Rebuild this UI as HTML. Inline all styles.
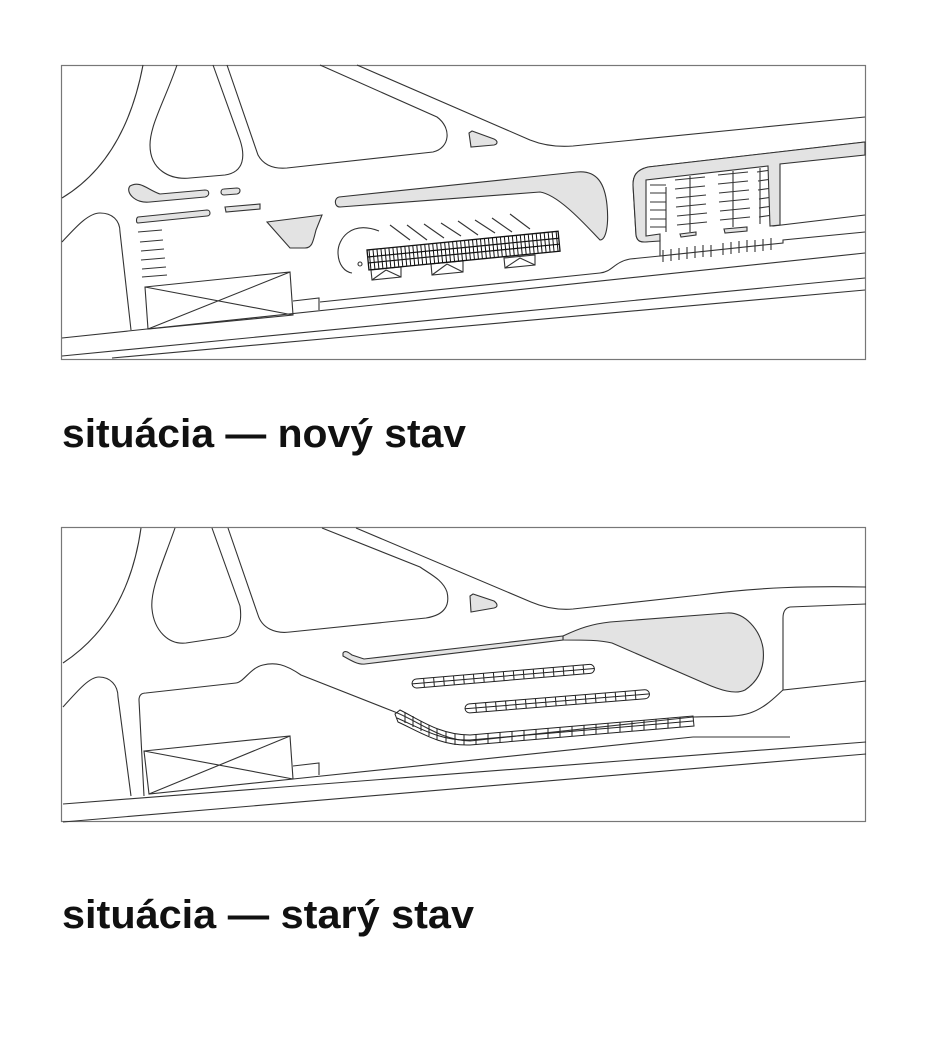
<!DOCTYPE html>
<html><head><meta charset="utf-8"><style>
html,body{margin:0;padding:0;background:#fff;}
svg{display:block;}
</style></head><body>
<svg width="940" height="1064" viewBox="0 0 940 1064" xmlns="http://www.w3.org/2000/svg">
<defs>
<pattern id="hatch" width="4" height="20" patternUnits="userSpaceOnUse"><line x1="1" y1="0" x2="1" y2="20" stroke="#111" stroke-width="1"/></pattern>
</defs>
<g fill="none" stroke="#333" stroke-width="1.1">
<!-- TOP -->
<rect x="61.5" y="65.5" width="804" height="294" stroke="#777" stroke-width="1.2"/>
<path d="M143,65 Q125,160 62,198"/>
<path d="M177,65 C165,100 150,125 150,145 C150,170 170,180 190,178 L225,175 C245,172 245,155 240,140 L213,65"/>
<path d="M227,65 L258,155 C264,166 275,169 287,168 L433,152 C450,148 452,128 437,117 L320,65"/>
<path d="M357,65 L530,140 C545,146 560,147 573,146 L865,117"/>
<path d="M865,142 L648,167 C636,170 633,176 633,185 L636,235 C637,241 640,242 645,242 L660,240 L660,256 L783,243 L783,240 L865,232"/>
<path d="M770,157 L773,226 L865,215" />
<path d="M62,242 C75,228 88,213 100,213 C112,213 120,220 120,232 L131,330"/>
<path d="M320,302 L600,273 C612,272 614,262 630,259 L660,256"/>
<path d="M379,231 C350,220 338,240 338,252 C338,265 345,272 352,273"/>
<path d="M62,338 L865,253"/>
<path d="M62,356 L865,278"/>
<path d="M112,358 L865,290"/>
<path d="M145,287 L290,272 L293,315 L148,329 Z M145,287 L293,315 M148,329 L290,272"/>
<path d="M293,301 L319,298 L319,310"/>
<path d="M138,232 L162,230 M140,242 L163,240 M141,251 L164,249 M141,260 L165,258 M142,269 L166,267 M142,277 L167,275"/>
<circle cx="360" cy="264" r="2"/>
<path d="M390,225 L410,240 M407,225 L427,240 M424,224 L444,238 M441,223 L461,236 M458,221 L478,235 M475,220 L495,233 M492,218 L512,232 M510,214 L530,229"/>
<path d="M371,270 L401,267 L401,277 L372,280 Z M372,280 L386,270 L401,277 M431,264 L463,261 L463,272 L432,275 Z M432,275 L447,264 L463,272 M504,258 L535,255 L535,265 L505,268 Z M505,268 L520,258 L535,265"/>
<path d="M666,187 L666,232 M650,185 L666,185 M650,193 L666,193 M650,202 L666,202 M650,210 L666,210 M650,219 L666,219 M650,227 L666,227 M690,176 L690,232 M675,180 L705,177 M675,189 L705,186 M676,198 L706,195 M676,207 L706,204 M677,216 L707,213 M677,225 L707,222 M733,171 L733,227 M718,175 L748,172 M718,184 L748,181 M719,193 L749,190 M719,202 L749,199 M720,211 L750,208 M720,220 L750,217 M760,168 L760,224 M757,172 L771,170 M758,181 L772,179 M758,190 L772,188 M759,199 L773,197 M759,208 L773,206 M759,217 L773,215"/>
<path d="M663,250 L663,262 M671,249 L671,261 M679,248 L679,260 M687,247 L687,259 M695,246 L695,258 M703,245 L703,257 M711,245 L711,257 M723,243 L723,255 M731,242 L731,254 M739,241 L739,253 M747,240 L747,252 M755,240 L755,252 M763,239 L763,251 M771,238 L771,250"/>
</g>
<g fill="#e3e3e3" stroke="#333" stroke-width="1.1">
<path d="M648,167 L865,142 L865,155 L780,164 L780,225 L770,226 L768,166 L646,180 L646,236 L660,234 L660,241 L645,242 C640,242 637,241 636,235 L633,185 C633,176 636,170 648,167 Z"/>
<path d="M339,197 L577,172 C598,170 605,185 607,205 C609,225 606,240 600,240 C590,230 560,195 540,192 L340,207 C334,207 334,198 339,197 Z"/>
<path d="M130,186 C140,180 148,190 160,194 L205,190 C210,190 210,196 205,197 L150,202 C135,204 125,192 130,186 Z"/>
<path d="M224,189 L237,188 C241,188 241,193 237,194 L224,195 C220,195 220,189 224,189 Z"/>
<path d="M138,217 L207,210 C211,210 211,216 207,216 L138,223 C136,223 136,218 138,217 Z"/>
<path d="M225,207 L260,204 L260,209 L226,212 Z"/>
<path d="M267,222 L322,215 L316,230 C313,242 312,248 305,248 L290,248 Z"/>
<path d="M469,133 L471,147 L494,145 C498,144 498,141 494,139 L472,131 Z"/>
<path d="M680,234 L696,232 L696,235 L681,237 Z M724,229 L747,227 L747,231 L725,233 Z"/>
</g>
<g transform="rotate(-5.6 367 250)">
<rect x="367" y="250" width="192" height="20" fill="url(#hatch)" stroke="#111" stroke-width="1.3"/>
<line x1="367" y1="257" x2="559" y2="257" stroke="#111" stroke-width="1.2"/>
<line x1="367" y1="263" x2="559" y2="263" stroke="#111" stroke-width="1.2"/>
</g>
<!-- BOTTOM -->
<g fill="none" stroke="#333" stroke-width="1.1">
<rect x="61.5" y="527.5" width="804" height="294" stroke="#777" stroke-width="1.2"/>
<path d="M141,528 Q128,620 63,663"/>
<path d="M175,528 C162,565 150,590 152,609 C154,630 168,645 186,643 L226,637 C240,634 242,620 240,606 L212,528"/>
<path d="M228,528 L258,615 C262,628 275,634 290,632 L426,618 C445,615 450,605 447,592 C443,580 430,574 420,567 L322,528"/>
<path d="M356,528 L531,602 C545,608 560,610 573,609 L700,595 C760,587 810,586 866,587"/>
<path d="M866,604 L790,607 C785,608 783,612 783,618 L783,690 L866,681"/>
<path d="M63,707 C80,688 90,677 99,677 C110,677 118,685 118,697 L131,796"/>
<path d="M144,796 L139,700 C139,695 142,693 146,693 L236,683 C244,682 250,668 263,665 C275,662 285,664 301,675 L395,712 C420,722 440,740 470,741 L693,717 C715,716 735,718 750,713 C765,708 775,697 783,690"/>
<path d="M693,737 L790,737"/>
<path d="M63,804 L866,742"/>
<path d="M63,822 L866,754"/>
<path d="M144,751 L290,736 L293,779 L149,794 Z M144,751 L293,779 M149,794 L290,736"/>
<path d="M293,766 L319,763 L319,775"/>
<path d="M293,779 L693,737"/>
</g>
<g fill="#e3e3e3" stroke="#333" stroke-width="1.1">
<path d="M563,636 C580,628 592,624 610,622 L727,613 C745,612 760,630 763,648 C765,665 760,680 745,690 C735,695 720,690 704,683 L612,643 C600,640 585,640 563,640 Z"/>
<path d="M343,653 C345,650 348,652 352,655 L364,659 L563,636 L563,640 L365,664 C358,665 350,660 343,656 Z"/>
<path d="M470,596 L471,612 L494,608 C498,607 498,604 494,601 L473,594 Z"/>
</g>
<g fill="none" stroke="#222" stroke-width="1">
<g transform="rotate(-4.8 416 683)">
<rect x="412" y="679" width="183" height="9" rx="4.5"/>
<path d="M424,679v9M434,679v9M444,679v9M454,679v9M464,679v9M474,679v9M484,679v9M494,679v9M504,679v9M514,679v9M524,679v9M534,679v9M544,679v9M554,679v9M564,679v9M574,679v9M584,679v9M412,683.5h183"/>
</g>
<g transform="rotate(-4.6 468 708)">
<rect x="465" y="704" width="185" height="9" rx="4.5"/>
<path d="M476,704v9M486,704v9M496,704v9M506,704v9M516,704v9M526,704v9M536,704v9M546,704v9M556,704v9M566,704v9M576,704v9M586,704v9M596,704v9M606,704v9M616,704v9M626,704v9M636,704v9M465,708.5h185"/>
</g>
<path d="M395,714 L400,710 C420,720 440,735 470,735 L693,716 L694,726 L470,745 C440,746 420,732 398,722 Z"/>
<path d="M397,718 C420,728 440,741 470,740 L693,721"/>
<path d="M405,712v11M413,716v11M421,721v10M429,725v11M437,729v11M446,732v11M455,734v11M464,735v10M476,734v10M488,733v10M500,732v10M512,731v10M524,730v10M536,729v10M548,728v10M560,727v10M572,726v10M584,725v10M596,724v10M608,723v10M620,722v10M632,721v10M644,720v10M656,719v10M668,718v10M680,717v10"/>
</g>
<g font-family="'Liberation Sans', sans-serif" font-size="40" font-weight="bold" fill="#111">
<text x="62" y="447" textLength="404" lengthAdjust="spacingAndGlyphs">situácia — nový stav</text>
<text x="62" y="928" textLength="412" lengthAdjust="spacingAndGlyphs">situácia — starý stav</text>
</g>
</svg>
</body></html>
